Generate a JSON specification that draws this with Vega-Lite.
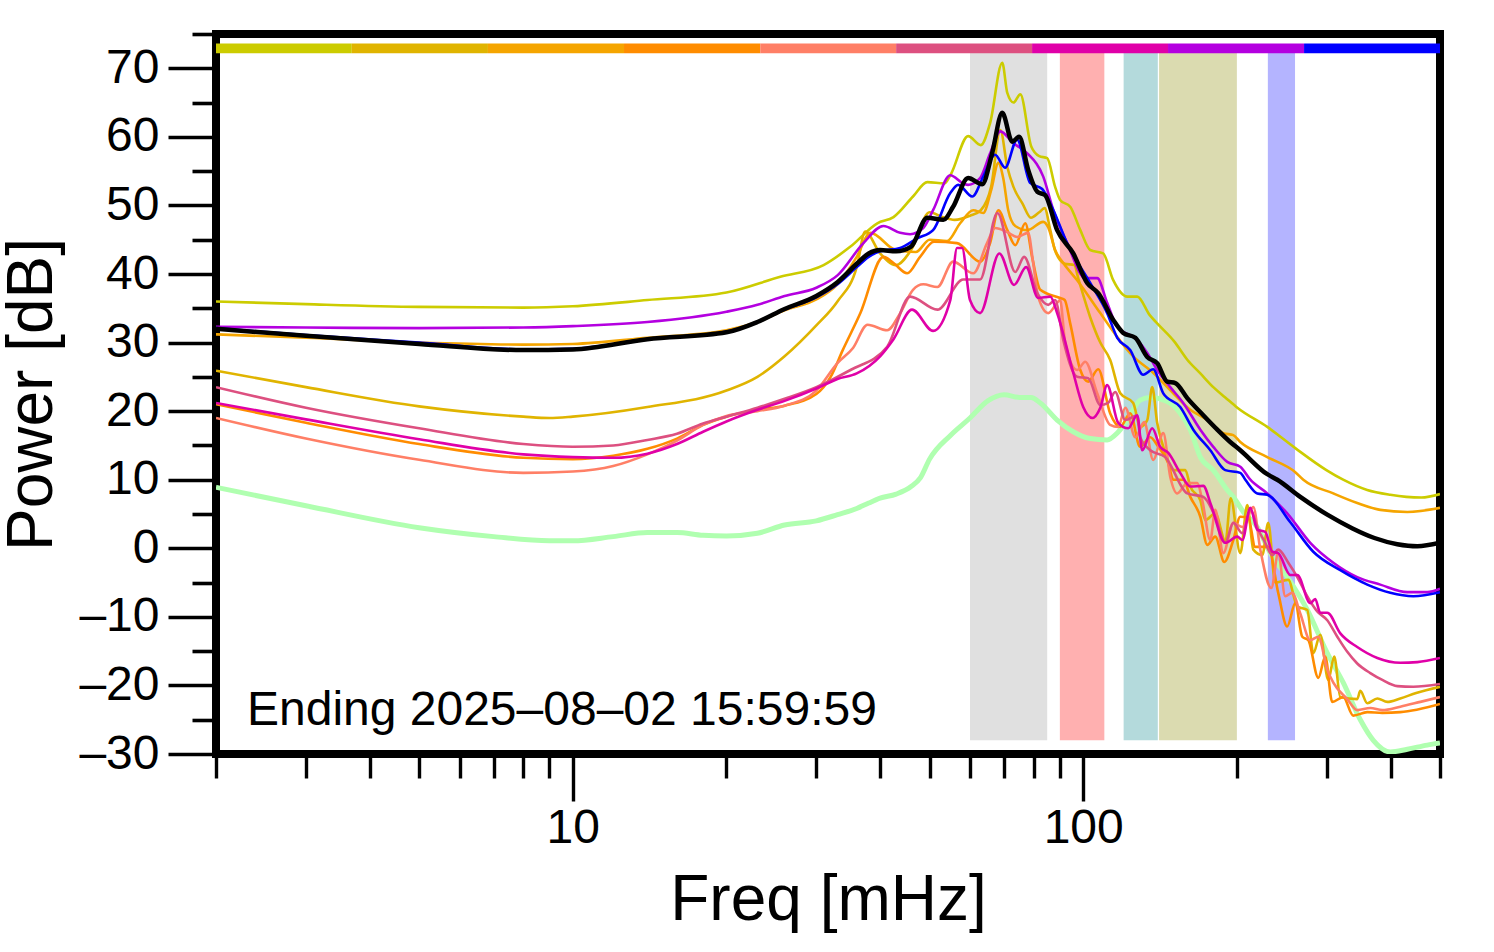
{"$schema":"https://vega.github.io/schema/vega-lite/v6.json","width":1224,"height":720,"autosize":{"type":"none"},"padding":{"left":216,"top":34,"right":54,"bottom":198},"background":"white","view":{"stroke":"black","strokeWidth":8,"fill":"white"},
"datasets":{
"bands":[{"lo":60,"hi":85,"band":"a"},{"lo":90,"hi":110,"band":"b"},{"lo":120,"hi":140,"band":"c"},{"lo":140.8,"hi":200,"band":"d"},{"lo":230,"hi":260,"band":"e"}],
"strips":[{"lo":2,"hi":3.69,"series":"s1"},{"lo":3.69,"hi":6.82,"series":"s2"},{"lo":6.82,"hi":12.6,"series":"s3"},{"lo":12.6,"hi":23.3,"series":"s4"},{"lo":23.3,"hi":43,"series":"s5"},{"lo":43,"hi":79.4,"series":"s6"},{"lo":79.4,"hi":146.6,"series":"s7"},{"lo":146.6,"hi":270.8,"series":"s8"},{"lo":270.8,"hi":500,"series":"s9"}],
"note":[{"freq":2.3,"power":-25.7,"label":"Ending 2025–08–02 15:59:59"}],
"lines":[
{"series":"diff","freq":2,"power":8.9},{"series":"diff","freq":3,"power":6.2},{"series":"diff","freq":5,"power":3},{"series":"diff","freq":7,"power":1.7},{"series":"diff","freq":9,"power":1.1},{"series":"diff","freq":10,"power":1.1},{"series":"diff","freq":12,"power":1.7},{"series":"diff","freq":14,"power":2.3},{"series":"diff","freq":16,"power":2.3},{"series":"diff","freq":18,"power":1.9},{"series":"diff","freq":20,"power":1.8},{"series":"diff","freq":23,"power":2.2},{"series":"diff","freq":26,"power":3.4},{"series":"diff","freq":30,"power":4},{"series":"diff","freq":33,"power":4.9},{"series":"diff","freq":36,"power":5.8},{"series":"diff","freq":38,"power":6.6},{"series":"diff","freq":40,"power":7.3},{"series":"diff","freq":43,"power":7.9},{"series":"diff","freq":46,"power":9},{"series":"diff","freq":48,"power":10.3},{"series":"diff","freq":50,"power":13},{"series":"diff","freq":55,"power":16.5},{"series":"diff","freq":60,"power":19},{"series":"diff","freq":65,"power":21.5},{"series":"diff","freq":70,"power":22.4},{"series":"diff","freq":75,"power":22},{"series":"diff","freq":79,"power":22},{"series":"diff","freq":82.4,"power":21.2},{"series":"diff","freq":88.9,"power":18.7},{"series":"diff","freq":95.6,"power":17},{"series":"diff","freq":103.2,"power":16},{"series":"diff","freq":111.4,"power":15.8},{"series":"diff","freq":116.6,"power":16.8},{"series":"diff","freq":122,"power":18.7},{"series":"diff","freq":129.3,"power":21.6},{"series":"diff","freq":135.3,"power":22},{"series":"diff","freq":146.1,"power":21.4},{"series":"diff","freq":154.9,"power":19.7},{"series":"diff","freq":162.1,"power":17.3},{"series":"diff","freq":169.6,"power":13.3},{"series":"diff","freq":179.8,"power":11.4},{"series":"diff","freq":191.5,"power":8.5},{"series":"diff","freq":196.8,"power":7.5},{"series":"diff","freq":205.9,"power":5.3},{"series":"diff","freq":219.3,"power":3.1},{"series":"diff","freq":232.5,"power":-0.7},{"series":"diff","freq":251,"power":-4.2},{"series":"diff","freq":274.8,"power":-9},{"series":"diff","freq":300.7,"power":-15.3},{"series":"diff","freq":323.2,"power":-19.6},{"series":"diff","freq":349,"power":-25},{"series":"diff","freq":370.1,"power":-28},{"series":"diff","freq":399.6,"power":-29.7},{"series":"diff","freq":431.5,"power":-29.3},{"series":"diff","freq":472.1,"power":-28.7},{"series":"diff","freq":500,"power":-28.4},
{"series":"s1","freq":2,"power":36},{"series":"s1","freq":3,"power":35.6},{"series":"s1","freq":5,"power":35.2},{"series":"s1","freq":8,"power":35.1},{"series":"s1","freq":10,"power":35.3},{"series":"s1","freq":14,"power":36.2},{"series":"s1","freq":20,"power":37.3},{"series":"s1","freq":25.5,"power":39.6},{"series":"s1","freq":31,"power":41.3},{"series":"s1","freq":35,"power":44},{"series":"s1","freq":39.5,"power":47.4},{"series":"s1","freq":42.5,"power":48.3},{"series":"s1","freq":46.4,"power":51.3},{"series":"s1","freq":49.5,"power":53.4},{"series":"s1","freq":53.5,"power":53.2},{"series":"s1","freq":55,"power":54.5},{"series":"s1","freq":59.5,"power":60.1},{"series":"s1","freq":63,"power":58.8},{"series":"s1","freq":65.7,"power":62},{"series":"s1","freq":69.4,"power":70.8},{"series":"s1","freq":71,"power":66.4},{"series":"s1","freq":73,"power":65},{"series":"s1","freq":75.3,"power":66.2},{"series":"s1","freq":79.1,"power":58.6},{"series":"s1","freq":82,"power":57.2},{"series":"s1","freq":85,"power":56.9},{"series":"s1","freq":88.1,"power":52.7},{"series":"s1","freq":90.1,"power":50.8},{"series":"s1","freq":94.3,"power":49.8},{"series":"s1","freq":98.7,"power":46.4},{"series":"s1","freq":103.2,"power":43.5},{"series":"s1","freq":109.4,"power":43},{"series":"s1","freq":114.5,"power":39.1},{"series":"s1","freq":122,"power":36.7},{"series":"s1","freq":127.6,"power":36.7},{"series":"s1","freq":135,"power":34},{"series":"s1","freq":139.6,"power":32.8},{"series":"s1","freq":151,"power":30.1},{"series":"s1","freq":159.9,"power":27.5},{"series":"s1","freq":169.6,"power":25.5},{"series":"s1","freq":179.8,"power":23.5},{"series":"s1","freq":189.8,"power":22},{"series":"s1","freq":200.4,"power":20.5},{"series":"s1","freq":229.4,"power":17.7},{"series":"s1","freq":260.3,"power":14.6},{"series":"s1","freq":299.5,"power":11.4},{"series":"s1","freq":323,"power":10},{"series":"s1","freq":360,"power":8.5},{"series":"s1","freq":399.6,"power":7.8},{"series":"s1","freq":429.5,"power":7.5},{"series":"s1","freq":459.7,"power":7.4},{"series":"s1","freq":500,"power":7.9},
{"series":"s2","freq":2,"power":25.9},{"series":"s2","freq":3,"power":23.5},{"series":"s2","freq":5,"power":20.7},{"series":"s2","freq":8,"power":19.2},{"series":"s2","freq":9,"power":19},{"series":"s2","freq":10,"power":19.2},{"series":"s2","freq":14,"power":20.6},{"series":"s2","freq":20,"power":23},{"series":"s2","freq":23,"power":25},{"series":"s2","freq":26,"power":28},{"series":"s2","freq":30,"power":32.5},{"series":"s2","freq":33,"power":36},{"series":"s2","freq":36,"power":41},{"series":"s2","freq":37.4,"power":46.2},{"series":"s2","freq":40,"power":43},{"series":"s2","freq":43,"power":41.3},{"series":"s2","freq":46,"power":43.5},{"series":"s2","freq":50,"power":49},{"series":"s2","freq":53,"power":48.3},{"series":"s2","freq":56,"power":47.9},{"series":"s2","freq":60,"power":48.5},{"series":"s2","freq":63,"power":49.3},{"series":"s2","freq":66,"power":52.7},{"series":"s2","freq":68.8,"power":61},{"series":"s2","freq":71,"power":55.6},{"series":"s2","freq":73,"power":52.7},{"series":"s2","freq":76,"power":50.3},{"series":"s2","freq":79,"power":48.2},{"series":"s2","freq":82,"power":49},{"series":"s2","freq":84,"power":49.6},{"series":"s2","freq":86.2,"power":46.4},{"series":"s2","freq":88,"power":43.5},{"series":"s2","freq":92,"power":41.5},{"series":"s2","freq":96,"power":41.3},{"series":"s2","freq":98,"power":39.1},{"series":"s2","freq":103.2,"power":33.7},{"series":"s2","freq":108,"power":30},{"series":"s2","freq":112.9,"power":27.5},{"series":"s2","freq":118.2,"power":22.6},{"series":"s2","freq":125.3,"power":21.2},{"series":"s2","freq":129.3,"power":17.7},{"series":"s2","freq":133.5,"power":18.7},{"series":"s2","freq":136.5,"power":23.5},{"series":"s2","freq":139.6,"power":18.3},{"series":"s2","freq":144.8,"power":13.9},{"series":"s2","freq":150.1,"power":11.4},{"series":"s2","freq":158.5,"power":11.4},{"series":"s2","freq":162.1,"power":9},{"series":"s2","freq":169.6,"power":7},{"series":"s2","freq":173.4,"power":4.1},{"series":"s2","freq":181.4,"power":5.1},{"series":"s2","freq":190,"power":1},{"series":"s2","freq":194.5,"power":7.3},{"series":"s2","freq":203.1,"power":-0.7},{"series":"s2","freq":209.6,"power":6.3},{"series":"s2","freq":215.4,"power":-0.2},{"series":"s2","freq":224.3,"power":-1},{"series":"s2","freq":230.4,"power":3.7},{"series":"s2","freq":237.8,"power":-5},{"series":"s2","freq":252.2,"power":-4.6},{"series":"s2","freq":262.7,"power":-8.5},{"series":"s2","freq":274.8,"power":-9},{"series":"s2","freq":282.3,"power":-15.3},{"series":"s2","freq":291.3,"power":-12.6},{"series":"s2","freq":302,"power":-19.2},{"series":"s2","freq":310.3,"power":-15.8},{"series":"s2","freq":318.9,"power":-21.7},{"series":"s2","freq":344.2,"power":-22},{"series":"s2","freq":349,"power":-20.8},{"series":"s2","freq":360.2,"power":-22.6},{"series":"s2","freq":376.9,"power":-21.9},{"series":"s2","freq":394.3,"power":-22.4},{"series":"s2","freq":418,"power":-21.9},{"series":"s2","freq":449,"power":-21.1},{"series":"s2","freq":500,"power":-20.2},
{"series":"s3","freq":2,"power":31.2},{"series":"s3","freq":3,"power":30.7},{"series":"s3","freq":5,"power":30},{"series":"s3","freq":8,"power":29.7},{"series":"s3","freq":10,"power":29.8},{"series":"s3","freq":14,"power":30.7},{"series":"s3","freq":20,"power":31.8},{"series":"s3","freq":23,"power":33},{"series":"s3","freq":26,"power":34.7},{"series":"s3","freq":30,"power":36.3},{"series":"s3","freq":33,"power":38.5},{"series":"s3","freq":36,"power":42.5},{"series":"s3","freq":38.3,"power":46},{"series":"s3","freq":42.9,"power":43.5},{"series":"s3","freq":47,"power":43.2},{"series":"s3","freq":50,"power":45},{"series":"s3","freq":54.1,"power":44.8},{"series":"s3","freq":57.4,"power":47.4},{"series":"s3","freq":60.9,"power":49.3},{"series":"s3","freq":63.7,"power":48.9},{"series":"s3","freq":66,"power":52.2},{"series":"s3","freq":68.2,"power":56.2},{"series":"s3","freq":69.7,"power":54},{"series":"s3","freq":71.3,"power":49.3},{"series":"s3","freq":73.6,"power":47},{"series":"s3","freq":77.7,"power":46.4},{"series":"s3","freq":83.5,"power":47.6},{"series":"s3","freq":85.4,"power":46.8},{"series":"s3","freq":88.1,"power":43.5},{"series":"s3","freq":91.4,"power":41.6},{"series":"s3","freq":97.3,"power":39.1},{"series":"s3","freq":108,"power":34.3},{"series":"s3","freq":116.6,"power":30.8},{"series":"s3","freq":125.3,"power":28},{"series":"s3","freq":137.1,"power":25.6},{"series":"s3","freq":150.1,"power":22.6},{"series":"s3","freq":162.1,"power":20.2},{"series":"s3","freq":175,"power":18.7},{"series":"s3","freq":188.1,"power":16.8},{"series":"s3","freq":196.8,"power":16.5},{"series":"s3","freq":203.1,"power":15.5},{"series":"s3","freq":229.4,"power":13.3},{"series":"s3","freq":260.3,"power":11.1},{"series":"s3","freq":269.9,"power":10},{"series":"s3","freq":309,"power":8},{"series":"s3","freq":344.2,"power":6.6},{"series":"s3","freq":382,"power":5.6},{"series":"s3","freq":431.5,"power":5.3},{"series":"s3","freq":500,"power":5.9},
{"series":"s4","freq":2,"power":21},{"series":"s4","freq":3,"power":18.3},{"series":"s4","freq":5,"power":15.2},{"series":"s4","freq":8,"power":13.2},{"series":"s4","freq":10,"power":13},{"series":"s4","freq":12,"power":13.5},{"series":"s4","freq":14,"power":14.5},{"series":"s4","freq":16,"power":16},{"series":"s4","freq":18,"power":18},{"series":"s4","freq":20,"power":19.2},{"series":"s4","freq":23,"power":20.2},{"series":"s4","freq":26,"power":20.8},{"series":"s4","freq":30,"power":22.5},{"series":"s4","freq":32,"power":25},{"series":"s4","freq":33.8,"power":28.9},{"series":"s4","freq":36.6,"power":34.3},{"series":"s4","freq":40.6,"power":42.5},{"series":"s4","freq":42.5,"power":41.6},{"series":"s4","freq":45.2,"power":40.1},{"series":"s4","freq":47.9,"power":42.5},{"series":"s4","freq":51,"power":44.7},{"series":"s4","freq":56.6,"power":44.5},{"series":"s4","freq":62.8,"power":41.8},{"series":"s4","freq":65.7,"power":44.5},{"series":"s4","freq":68.2,"power":49.3},{"series":"s4","freq":71,"power":46.4},{"series":"s4","freq":73.6,"power":44.2},{"series":"s4","freq":77,"power":47.4},{"series":"s4","freq":79.4,"power":42.5},{"series":"s4","freq":82.4,"power":37.7},{"series":"s4","freq":90.1,"power":36.5},{"series":"s4","freq":92,"power":36.2},{"series":"s4","freq":94.3,"power":32.8},{"series":"s4","freq":98.7,"power":26},{"series":"s4","freq":102.3,"power":24.3},{"series":"s4","freq":107,"power":26.1},{"series":"s4","freq":112.9,"power":19.7},{"series":"s4","freq":118.2,"power":17.7},{"series":"s4","freq":123.6,"power":19.7},{"series":"s4","freq":129.3,"power":14.8},{"series":"s4","freq":135.3,"power":16.2},{"series":"s4","freq":140.3,"power":14.8},{"series":"s4","freq":146.8,"power":12.4},{"series":"s4","freq":150.1,"power":10},{"series":"s4","freq":157,"power":10},{"series":"s4","freq":162.1,"power":7.5},{"series":"s4","freq":169.6,"power":4.6},{"series":"s4","freq":175,"power":0.5},{"series":"s4","freq":181.4,"power":1.7},{"series":"s4","freq":189,"power":-2},{"series":"s4","freq":196.8,"power":1.2},{"series":"s4","freq":203.1,"power":4.6},{"series":"s4","freq":210.6,"power":4.4},{"series":"s4","freq":217.3,"power":0.2},{"series":"s4","freq":230.4,"power":0.2},{"series":"s4","freq":241,"power":-6.5},{"series":"s4","freq":251,"power":-11.4},{"series":"s4","freq":260.3,"power":-8},{"series":"s4","freq":268.6,"power":-12.9},{"series":"s4","freq":276,"power":-13.4},{"series":"s4","freq":288.8,"power":-18.9},{"series":"s4","freq":298,"power":-15.8},{"series":"s4","freq":307.5,"power":-22.4},{"series":"s4","freq":323.2,"power":-21.7},{"series":"s4","freq":338,"power":-24.4},{"series":"s4","freq":360.2,"power":-23.9},{"series":"s4","freq":385.5,"power":-24},{"series":"s4","freq":418,"power":-23.9},{"series":"s4","freq":500,"power":-22.7},
{"series":"s5","freq":2,"power":19},{"series":"s5","freq":3,"power":16},{"series":"s5","freq":5,"power":12.9},{"series":"s5","freq":8,"power":11},{"series":"s5","freq":10,"power":11.2},{"series":"s5","freq":12,"power":12},{"series":"s5","freq":14,"power":13.7},{"series":"s5","freq":16,"power":15.7},{"series":"s5","freq":18,"power":18},{"series":"s5","freq":20,"power":19.3},{"series":"s5","freq":23,"power":20},{"series":"s5","freq":26,"power":20.8},{"series":"s5","freq":30,"power":23},{"series":"s5","freq":33,"power":27},{"series":"s5","freq":35.4,"power":29.2},{"series":"s5","freq":37.8,"power":32.6},{"series":"s5","freq":41.3,"power":31.8},{"series":"s5","freq":43.8,"power":34.3},{"series":"s5","freq":46.4,"power":37.7},{"series":"s5","freq":48.6,"power":38.5},{"series":"s5","freq":51.8,"power":38.1},{"series":"s5","freq":55.6,"power":41.8},{"series":"s5","freq":60.9,"power":40.1},{"series":"s5","freq":64.8,"power":44.5},{"series":"s5","freq":67.2,"power":46.7},{"series":"s5","freq":71,"power":46.1},{"series":"s5","freq":74.2,"power":45.4},{"series":"s5","freq":78,"power":46},{"series":"s5","freq":79.8,"power":41.6},{"series":"s5","freq":81.6,"power":36.7},{"series":"s5","freq":85.4,"power":34.3},{"series":"s5","freq":88.9,"power":35.8},{"series":"s5","freq":90.1,"power":36.2},{"series":"s5","freq":92.2,"power":29.9},{"series":"s5","freq":97.3,"power":26},{"series":"s5","freq":100.9,"power":27.2},{"series":"s5","freq":106.5,"power":22.6},{"series":"s5","freq":112.9,"power":18},{"series":"s5","freq":117.1,"power":17.7},{"series":"s5","freq":120.9,"power":20.5},{"series":"s5","freq":126.5,"power":16.2},{"series":"s5","freq":131.7,"power":18.4},{"series":"s5","freq":137.1,"power":12.9},{"series":"s5","freq":143.5,"power":16.8},{"series":"s5","freq":148.1,"power":10.4},{"series":"s5","freq":152.8,"power":8},{"series":"s5","freq":159.9,"power":9.5},{"series":"s5","freq":167.3,"power":9.5},{"series":"s5","freq":171.1,"power":7},{"series":"s5","freq":177.4,"power":1.2},{"series":"s5","freq":181.4,"power":5.6},{"series":"s5","freq":188.1,"power":-0.7},{"series":"s5","freq":196.8,"power":3.7},{"series":"s5","freq":205,"power":3.1},{"series":"s5","freq":215.4,"power":6},{"series":"s5","freq":222.3,"power":-0.2},{"series":"s5","freq":233.6,"power":-5.8},{"series":"s5","freq":241,"power":-0.7},{"series":"s5","freq":248.8,"power":-7},{"series":"s5","freq":256.7,"power":-6.5},{"series":"s5","freq":266.2,"power":-9.5},{"series":"s5","freq":278.5,"power":-13.4},{"series":"s5","freq":288.8,"power":-12.9},{"series":"s5","freq":300.7,"power":-17.7},{"series":"s5","freq":309,"power":-19.6},{"series":"s5","freq":329.1,"power":-22},{"series":"s5","freq":344.2,"power":-23.6},{"series":"s5","freq":365.1,"power":-23.3},{"series":"s5","freq":385.5,"power":-23.6},{"series":"s5","freq":418,"power":-23.1},{"series":"s5","freq":457.6,"power":-22.4},{"series":"s5","freq":500,"power":-21.7},
{"series":"s6","freq":2,"power":23.5},{"series":"s6","freq":3,"power":20.5},{"series":"s6","freq":5,"power":17.5},{"series":"s6","freq":8,"power":15.2},{"series":"s6","freq":10,"power":14.8},{"series":"s6","freq":12,"power":15},{"series":"s6","freq":14,"power":15.8},{"series":"s6","freq":16,"power":16.7},{"series":"s6","freq":18,"power":18.2},{"series":"s6","freq":20,"power":19.2},{"series":"s6","freq":23,"power":20.5},{"series":"s6","freq":26,"power":21.8},{"series":"s6","freq":30,"power":23.5},{"series":"s6","freq":35,"power":26},{"series":"s6","freq":41.3,"power":29.4},{"series":"s6","freq":45.8,"power":36.7},{"series":"s6","freq":51.8,"power":34.8},{"series":"s6","freq":58.2,"power":39.2},{"series":"s6","freq":62.8,"power":39.2},{"series":"s6","freq":67.9,"power":48.9},{"series":"s6","freq":73.6,"power":40.3},{"series":"s6","freq":76.6,"power":42.5},{"series":"s6","freq":81.3,"power":37.2},{"series":"s6","freq":85.4,"power":35.5},{"series":"s6","freq":88.1,"power":36.2},{"series":"s6","freq":91.4,"power":30.4},{"series":"s6","freq":97.3,"power":25},{"series":"s6","freq":102.3,"power":24.8},{"series":"s6","freq":108,"power":20.9},{"series":"s6","freq":111.9,"power":21.2},{"series":"s6","freq":115.5,"power":22.8},{"series":"s6","freq":120.9,"power":18.7},{"series":"s6","freq":127.6,"power":19.4},{"series":"s6","freq":129.3,"power":16.2},{"series":"s6","freq":135.3,"power":14.3},{"series":"s6","freq":144.8,"power":13.3},{"series":"s6","freq":159.9,"power":8},{"series":"s6","freq":171.9,"power":7.5},{"series":"s6","freq":181.4,"power":4.6},{"series":"s6","freq":189.8,"power":0.8},{"series":"s6","freq":196.8,"power":3.7},{"series":"s6","freq":205,"power":2.2},{"series":"s6","freq":212.5,"power":5.6},{"series":"s6","freq":220.3,"power":2.7},{"series":"s6","freq":227.3,"power":0.8},{"series":"s6","freq":234.6,"power":-1},{"series":"s6","freq":241,"power":-0.2},{"series":"s6","freq":252.2,"power":-2.1},{"series":"s6","freq":262.7,"power":-4.2},{"series":"s6","freq":274.8,"power":-7},{"series":"s6","freq":287.4,"power":-9.2},{"series":"s6","freq":300.7,"power":-10.5},{"series":"s6","freq":314.6,"power":-12.9},{"series":"s6","freq":329.1,"power":-15.1},{"series":"s6","freq":344.2,"power":-16.8},{"series":"s6","freq":365.1,"power":-18.2},{"series":"s6","freq":385.5,"power":-19.2},{"series":"s6","freq":412.4,"power":-20.1},{"series":"s6","freq":443.3,"power":-20.2},{"series":"s6","freq":500,"power":-19.8},
{"series":"s7","freq":2,"power":21.2},{"series":"s7","freq":3,"power":18.8},{"series":"s7","freq":5,"power":15.9},{"series":"s7","freq":8,"power":13.7},{"series":"s7","freq":10,"power":13.3},{"series":"s7","freq":12,"power":13.2},{"series":"s7","freq":14,"power":13.8},{"series":"s7","freq":16,"power":15.2},{"series":"s7","freq":18,"power":17},{"series":"s7","freq":20,"power":18.5},{"series":"s7","freq":23,"power":20.2},{"series":"s7","freq":26,"power":21.5},{"series":"s7","freq":30,"power":23.3},{"series":"s7","freq":33,"power":24.7},{"series":"s7","freq":36,"power":25.5},{"series":"s7","freq":40,"power":28},{"series":"s7","freq":42.5,"power":30.5},{"series":"s7","freq":46.2,"power":34.8},{"series":"s7","freq":50.8,"power":31.7},{"series":"s7","freq":54.9,"power":36.2},{"series":"s7","freq":56.6,"power":43.8},{"series":"s7","freq":57.9,"power":43.8},{"series":"s7","freq":60,"power":36.2},{"series":"s7","freq":62.8,"power":34.3},{"series":"s7","freq":68.5,"power":43},{"series":"s7","freq":73.2,"power":38.4},{"series":"s7","freq":77.3,"power":41},{"series":"s7","freq":81.6,"power":36.5},{"series":"s7","freq":86.2,"power":36.7},{"series":"s7","freq":88.9,"power":34.3},{"series":"s7","freq":95.6,"power":25.6},{"series":"s7","freq":100,"power":20.6},{"series":"s7","freq":104.2,"power":19},{"series":"s7","freq":108,"power":20.5},{"series":"s7","freq":111.4,"power":23.8},{"series":"s7","freq":117.1,"power":18.3},{"series":"s7","freq":122.5,"power":17.5},{"series":"s7","freq":127.6,"power":19.4},{"series":"s7","freq":130.5,"power":14.3},{"series":"s7","freq":136.5,"power":17.5},{"series":"s7","freq":141.5,"power":14.8},{"series":"s7","freq":146.8,"power":13.9},{"series":"s7","freq":154.9,"power":11},{"series":"s7","freq":162.1,"power":9},{"series":"s7","freq":171.9,"power":9.1},{"series":"s7","freq":178,"power":6.3},{"series":"s7","freq":189.8,"power":0.8},{"series":"s7","freq":200.4,"power":1.7},{"series":"s7","freq":205,"power":1.2},{"series":"s7","freq":212.5,"power":5.9},{"series":"s7","freq":219.3,"power":2.7},{"series":"s7","freq":227.3,"power":2.4},{"series":"s7","freq":234.6,"power":-0.5},{"series":"s7","freq":241,"power":-0.7},{"series":"s7","freq":254.5,"power":-3.9},{"series":"s7","freq":262.7,"power":-3.9},{"series":"s7","freq":278.5,"power":-8},{"series":"s7","freq":284.8,"power":-7.4},{"series":"s7","freq":291.3,"power":-9.4},{"series":"s7","freq":300.7,"power":-9.4},{"series":"s7","freq":318.9,"power":-12.4},{"series":"s7","freq":344.2,"power":-14.4},{"series":"s7","freq":376.9,"power":-16},{"series":"s7","freq":418,"power":-16.7},{"series":"s7","freq":451.4,"power":-16.6},{"series":"s7","freq":500,"power":-16},
{"series":"s8","freq":2,"power":32.3},{"series":"s8","freq":3,"power":32.2},{"series":"s8","freq":5,"power":32.1},{"series":"s8","freq":8,"power":32.2},{"series":"s8","freq":10,"power":32.4},{"series":"s8","freq":14,"power":33},{"series":"s8","freq":20,"power":34.5},{"series":"s8","freq":23,"power":35.5},{"series":"s8","freq":26,"power":36.8},{"series":"s8","freq":30,"power":38},{"series":"s8","freq":33,"power":39.8},{"series":"s8","freq":37.1,"power":44.5},{"series":"s8","freq":40.6,"power":47},{"series":"s8","freq":43.8,"power":46},{"series":"s8","freq":45.8,"power":45.8},{"series":"s8","freq":48.6,"power":46.7},{"series":"s8","freq":50.8,"power":49.3},{"series":"s8","freq":54.9,"power":54.4},{"series":"s8","freq":58.2,"power":53.2},{"series":"s8","freq":59.5,"power":53},{"series":"s8","freq":62.8,"power":54},{"series":"s8","freq":65.7,"power":57.6},{"series":"s8","freq":68.8,"power":60.8},{"series":"s8","freq":72.9,"power":59.1},{"series":"s8","freq":77.7,"power":57.6},{"series":"s8","freq":83.5,"power":54.2},{"series":"s8","freq":87.4,"power":49.3},{"series":"s8","freq":93,"power":44.5},{"series":"s8","freq":101,"power":39.4},{"series":"s8","freq":106.5,"power":39.4},{"series":"s8","freq":111.4,"power":35.8},{"series":"s8","freq":116.6,"power":32.3},{"series":"s8","freq":127.6,"power":30.4},{"series":"s8","freq":133.5,"power":28.5},{"series":"s8","freq":139.6,"power":26},{"series":"s8","freq":148.1,"power":23.5},{"series":"s8","freq":157,"power":21.2},{"series":"s8","freq":169.6,"power":17.3},{"series":"s8","freq":179.8,"power":14.8},{"series":"s8","freq":191.5,"power":12.6},{"series":"s8","freq":203.1,"power":11.9},{"series":"s8","freq":212.5,"power":10},{"series":"s8","freq":229.4,"power":8},{"series":"s8","freq":251,"power":5.1},{"series":"s8","freq":278.5,"power":0.8},{"series":"s8","freq":309,"power":-2.1},{"series":"s8","freq":344.2,"power":-4.2},{"series":"s8","freq":382,"power":-5.3},{"series":"s8","freq":431.5,"power":-6.4},{"series":"s8","freq":472.1,"power":-6.4},{"series":"s8","freq":500,"power":-5.9},
{"series":"s9","freq":2,"power":32.1},{"series":"s9","freq":3,"power":31.1},{"series":"s9","freq":5,"power":30},{"series":"s9","freq":8,"power":29},{"series":"s9","freq":10,"power":29.1},{"series":"s9","freq":14,"power":30.5},{"series":"s9","freq":20,"power":31.6},{"series":"s9","freq":23,"power":33},{"series":"s9","freq":26,"power":34.8},{"series":"s9","freq":30,"power":36.6},{"series":"s9","freq":33,"power":38.5},{"series":"s9","freq":36,"power":41},{"series":"s9","freq":38,"power":42.5},{"series":"s9","freq":40,"power":43.3},{"series":"s9","freq":43.8,"power":43.8},{"series":"s9","freq":47.3,"power":45.2},{"series":"s9","freq":50.8,"power":46.4},{"series":"s9","freq":54.9,"power":51.8},{"series":"s9","freq":56.9,"power":53},{"series":"s9","freq":60.6,"power":51.3},{"series":"s9","freq":63.7,"power":54.2},{"series":"s9","freq":67.2,"power":57.4},{"series":"s9","freq":70.3,"power":55.5},{"series":"s9","freq":74.2,"power":59.6},{"series":"s9","freq":78.7,"power":53.3},{"series":"s9","freq":83.1,"power":52.4},{"series":"s9","freq":87.4,"power":49.3},{"series":"s9","freq":93,"power":44.5},{"series":"s9","freq":103.2,"power":38.7},{"series":"s9","freq":111.4,"power":34.3},{"series":"s9","freq":116.6,"power":30.7},{"series":"s9","freq":123.6,"power":28.9},{"series":"s9","freq":131.1,"power":25.3},{"series":"s9","freq":137.1,"power":26.1},{"series":"s9","freq":143.5,"power":22.6},{"series":"s9","freq":154.9,"power":20.6},{"series":"s9","freq":164.3,"power":17.3},{"series":"s9","freq":177.4,"power":14.3},{"series":"s9","freq":189.8,"power":11.4},{"series":"s9","freq":203.1,"power":11},{"series":"s9","freq":207.8,"power":10},{"series":"s9","freq":219.3,"power":8},{"series":"s9","freq":229.4,"power":7.8},{"series":"s9","freq":254.5,"power":3.8},{"series":"s9","freq":282.3,"power":-0.5},{"series":"s9","freq":318.9,"power":-3.2},{"series":"s9","freq":360.2,"power":-5.3},{"series":"s9","freq":399.6,"power":-6.5},{"series":"s9","freq":443.3,"power":-7},{"series":"s9","freq":500,"power":-6.4},
{"series":"mean","freq":2,"power":32},{"series":"mean","freq":3,"power":31},{"series":"mean","freq":5,"power":29.8},{"series":"mean","freq":8,"power":28.9},{"series":"mean","freq":10,"power":29},{"series":"mean","freq":14,"power":30.5},{"series":"mean","freq":20,"power":31.5},{"series":"mean","freq":23,"power":33},{"series":"mean","freq":26,"power":34.9},{"series":"mean","freq":30,"power":36.8},{"series":"mean","freq":33,"power":38.8},{"series":"mean","freq":36,"power":41.5},{"series":"mean","freq":38,"power":43},{"series":"mean","freq":40,"power":43.5},{"series":"mean","freq":43,"power":43.3},{"series":"mean","freq":46,"power":44},{"series":"mean","freq":49.5,"power":48.2},{"series":"mean","freq":53.2,"power":47.9},{"series":"mean","freq":55.6,"power":49.8},{"series":"mean","freq":59.5,"power":54},{"series":"mean","freq":63.4,"power":53.1},{"series":"mean","freq":66.3,"power":57.6},{"series":"mean","freq":69.4,"power":63.5},{"series":"mean","freq":72.6,"power":59.3},{"series":"mean","freq":74.9,"power":60},{"series":"mean","freq":78,"power":55.2},{"series":"mean","freq":81.3,"power":52},{"series":"mean","freq":84.2,"power":51.5},{"series":"mean","freq":88.9,"power":46.4},{"series":"mean","freq":95.6,"power":43},{"series":"mean","freq":101.8,"power":38.7},{"series":"mean","freq":107,"power":37.2},{"series":"mean","freq":114.5,"power":33.3},{"series":"mean","freq":119.8,"power":31.4},{"series":"mean","freq":126.5,"power":30.7},{"series":"mean","freq":133.5,"power":27.9},{"series":"mean","freq":139.6,"power":27},{"series":"mean","freq":146.1,"power":24.3},{"series":"mean","freq":151.5,"power":24.1},{"series":"mean","freq":159.9,"power":21.9},{"series":"mean","freq":171.9,"power":19.4},{"series":"mean","freq":183.1,"power":17.3},{"series":"mean","freq":194.1,"power":15.5},{"series":"mean","freq":203.1,"power":14.3},{"series":"mean","freq":229.4,"power":10.8},{"series":"mean","freq":240,"power":10},{"series":"mean","freq":266.2,"power":7.5},{"series":"mean","freq":300.7,"power":4.9},{"series":"mean","freq":337,"power":2.9},{"series":"mean","freq":372,"power":1.5},{"series":"mean","freq":412.4,"power":0.6},{"series":"mean","freq":451.4,"power":0.3},{"series":"mean","freq":500,"power":0.8}
]},
"layer":[
{"data":{"name":"bands"},"mark":{"type":"rect","stroke":null},"encoding":{
"x":{"field":"lo","type":"quantitative","scale":{"type":"log","domain":[2,500],"nice":false},
"axis":{"orient":"bottom","title":"Freq [mHz]","titleFont":"Liberation Sans","titleFontSize":64,"titleFontWeight":"normal","titleColor":"black","titlePadding":16,"domain":false,"grid":false,"values":[10,100],"labelExpr":"datum.value+''","labelFont":"Liberation Sans","labelFontSize":48,"labelColor":"black","labelPadding":3,"labelOverlap":false,"labelFlush":false,"labelBound":false,"tickColor":"black","tickWidth":3.4,"tickSize":47}},
"x2":{"field":"hi"},
"y":{"datum":-28,"type":"quantitative","scale":{"domain":[-30,75],"nice":false},
"axis":{"orient":"left","title":"Power [dB]","titleFont":"Liberation Sans","titleFontSize":64,"titleFontWeight":"normal","titleColor":"black","titlePadding":14,"domain":false,"grid":false,"values":[-30,-20,-10,0,10,20,30,40,50,60,70],"labelExpr":"datum.value<0?'–'+abs(datum.value):datum.value+''","labelFont":"Liberation Sans","labelFontSize":48,"labelColor":"black","labelPadding":9,"labelOverlap":false,"labelFlush":false,"labelBound":false,"tickColor":"black","tickWidth":3.6,"tickSize":48}},
"y2":{"datum":73},
"color":{"field":"band","type":"nominal","legend":null,"scale":{"domain":["a","b","c","d","e"],"range":["#e0e0e0","#ffb0b0","#b4dadc","#dbdbb0","#b4b4ff"]}}}},
{"data":{"name":"lines"},"mark":{"type":"line","interpolate":"monotone","clip":true,"strokeCap":"butt"},"encoding":{
"x":{"field":"freq","type":"quantitative","axis":{"orient":"bottom","title":null,"domain":false,"grid":false,"labels":false,"values":[2,3,4,5,6,7,8,9,20,30,40,50,60,70,80,90,200,300,400,500],"tickColor":"black","tickWidth":3.4,"tickSize":24}},
"y":{"field":"power","type":"quantitative","axis":{"orient":"left","title":null,"domain":false,"grid":false,"labels":false,"values":[-25,-15,-5,5,15,25,35,45,55,65,75],"tickColor":"black","tickWidth":3.6,"tickSize":24}},
"color":{"field":"series","type":"nominal","legend":null,"scale":{"domain":["s1","s2","s3","s4","s5","s6","s7","s8","s9","mean","diff"],"range":["#cccc00","#e0b400","#f5a500","#ff8c00","#ff7f66","#dd5080","#e000a8","#b400e0","#0000ff","#000000","#b0ffb0"]}},
"strokeWidth":{"field":"series","type":"nominal","legend":null,"scale":{"type":"ordinal","domain":["s1","s2","s3","s4","s5","s6","s7","s8","s9","mean","diff"],"range":[2.6,2.6,2.6,2.6,2.6,2.6,2.6,2.6,2.6,4.5,5]}}}},
{"data":{"name":"strips"},"mark":{"type":"rect"},"encoding":{
"x":{"field":"lo","type":"quantitative","axis":null},"x2":{"field":"hi"},
"y":{"datum":72.2,"type":"quantitative","axis":null},"y2":{"datum":73.6},
"color":{"field":"series","type":"nominal","legend":null,"scale":{"domain":["s1","s2","s3","s4","s5","s6","s7","s8","s9"],"range":["#cccc00","#e0b400","#f5a500","#ff8c00","#ff7f66","#dd5080","#e000a8","#b400e0","#0000ff"]}}}},
{"data":{"name":"note"},"mark":{"type":"text","align":"left","baseline":"alphabetic","font":"Liberation Sans","fontSize":48,"color":"black"},"encoding":{
"x":{"field":"freq","type":"quantitative","axis":null},"y":{"field":"power","type":"quantitative","axis":null},"text":{"field":"label"}}}
],
"config":{"axis":{"labelLimit":0,"titleLimit":0}},
"resolve":{"scale":{"color":"independent"},"axis":{"x":"independent","y":"independent"}}
}
